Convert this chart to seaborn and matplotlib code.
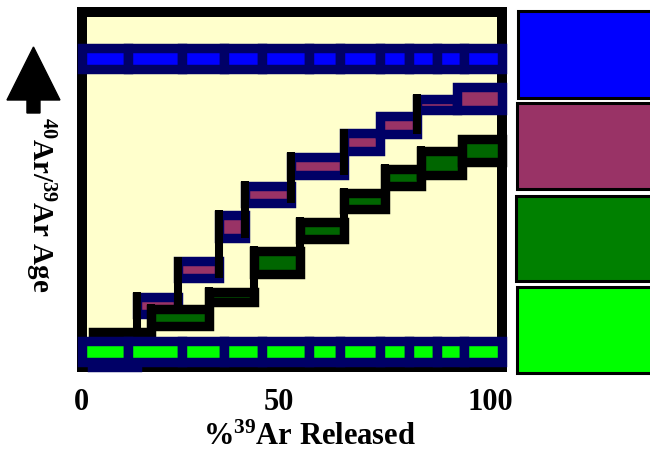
import matplotlib
matplotlib.use('Agg')
import numpy as np
import matplotlib.pyplot as plt
import matplotlib.transforms as mtransforms
from matplotlib.patches import Rectangle, FancyArrow
import seaborn as sns

# %39Ar step edges and apparent ages (arbitrary age units 0-100, no scale shown)
band_edges = [0, 11, 24, 34, 43, 54, 61.5, 71, 78, 84.5, 91, 100]
upper_band_age, upper_band_err = 86.7, 3.0
lower_band_age, lower_band_err = 4.4, 3.0

purple_edges = [2.5, 13.3, 23.0, 32.7, 39.0, 49.8, 62.4, 71.0, 79.7, 89.3, 100]
purple_age = [2.5, 17.4, 27.3, 39.5, 48.5, 56.6, 63.3, 68.1, 73.9, 75.5]
purple_err = [2.4, 2.4, 2.4, 3.2, 2.5, 2.5, 2.4, 2.5, 1.6, 3.2]
purple_links = [1, 1, 1, 1, 1, 1, 0, 1, 0]

green_edges = [2.7, 16.5, 30.4, 41.1, 52.0, 62.5, 72.2, 80.7, 90.4, 100]
green_age = [7.45, 13.9, 19.7, 29.5, 38.5, 46.7, 53.3, 57.4, 60.8]
green_err = [2.4, 2.4, 1.5, 3.2, 2.4, 2.3, 2.4, 3.3, 3.2]
green_links = [1, 1, 1, 1, 1, 1, 1, 1]

x_ticks = [0, 50, 100]
x_ticklabels = ['0', '50', '100']
legend_colors = ['#0000FF', '#993366', '#008000', '#00FF00']

NAVY = '#000066'
EDGE = 6.8   # box outline, pt
PAD = 1.34   # half outline in age units

sns.set_theme(style='white')
plt.rcParams['font.family'] = ['Liberation Serif', 'DejaVu Serif']
plt.rcParams['font.weight'] = 'bold'
plt.rcParams['mathtext.fontset'] = 'custom'
plt.rcParams['mathtext.rm'] = 'Liberation Serif:bold'
plt.rcParams['mathtext.it'] = 'Liberation Serif:bold'
plt.rcParams['mathtext.bf'] = 'Liberation Serif:bold'

fig = plt.figure(figsize=(6.5, 4.55), dpi=100)
ax = fig.add_axes([0.1254, 0.1934, 0.6469, 0.7813])
ax.set_facecolor('#FFFFCC')
ax.grid(False)
for s in ax.spines.values():
    s.set_visible(True)
    s.set_color('black')
    s.set_linewidth(7.2)
ax.set_xlim(0, 100)
ax.set_ylim(0, 100)


def steps(edges, ages, errs, face, edge, z):
    edges = np.asarray(edges, dtype=float)
    ages = np.asarray(ages, dtype=float)
    errs = np.asarray(errs, dtype=float)
    ax.bar(edges[:-1], 2 * errs, bottom=ages - errs, width=np.diff(edges),
           align='edge', color=face, edgecolor=edge, linewidth=EDGE,
           zorder=z, clip_on=False)


def links(edges, ages, errs, mask, z):
    for i, on in enumerate(mask):
        if not on:
            continue
        lo, hi = (i, i + 1) if ages[i] < ages[i + 1] else (i + 1, i)
        ax.vlines(edges[i + 1], ages[lo] - errs[lo], ages[hi] + errs[hi] + PAD,
                  color='black', linewidth=5.8, zorder=z, clip_on=False)


steps(purple_edges, purple_age, purple_err, '#993366', NAVY, 4)
links(purple_edges, purple_age, purple_err, purple_links, 4.5)
steps(green_edges, green_age, green_err, '#006600', 'black', 5)
links(green_edges, green_age, green_err, green_links, 5.5)

n_band = len(band_edges) - 1
steps(band_edges, [upper_band_age] * n_band, [upper_band_err] * n_band, '#0000FF', NAVY, 6)
steps(band_edges, [lower_band_age] * n_band, [lower_band_err] * n_band, '#00FF00', NAVY, 6)

ax.set_yticks([])
ax.set_xticks(x_ticks)
ax.set_xticklabels(x_ticklabels, fontsize=22, fontweight='bold', color='black')
ax.tick_params(axis='x', length=0, pad=15)
for lbl, dx in zip(ax.get_xticklabels(), [0, -13, -12]):
    lbl.set_transform(lbl.get_transform() +
                      mtransforms.ScaledTranslation(dx / 100, 0, fig.dpi_scale_trans))

fig.text(309 / 650, 1 - 437 / 455, r'%$^{39}$Ar Released', ha='center', va='center',
         fontsize=22, fontweight='bold', color='black')
fig.text(40 / 650, 1 - 205 / 455, r'$^{40}$Ar/$^{39}$Ar Age', rotation=270,
         ha='center', va='center', fontsize=21, fontweight='bold', color='black')

fig.add_artist(FancyArrow(0.0515, 1 - 113 / 455, 0, 66 / 455, width=0.02,
                          head_width=0.0815, head_length=53 / 455,
                          length_includes_head=True, color='black',
                          transform=fig.transFigure))

# colour key on the right, running off the edge
swatch_px = [(518, 11.5, 97.8), (517, 103.2, 189.2), (515.8, 195.5, 281.2), (517, 286.5, 372.8)]
for c, (x0, top, bot) in zip(legend_colors, swatch_px):
    fig.add_artist(Rectangle((x0 / 650, 1 - bot / 455), 0.4, (bot - top) / 455,
                             facecolor=c, edgecolor='black', linewidth=2.2,
                             transform=fig.transFigure))

fig.savefig('out.png', dpi=100)
